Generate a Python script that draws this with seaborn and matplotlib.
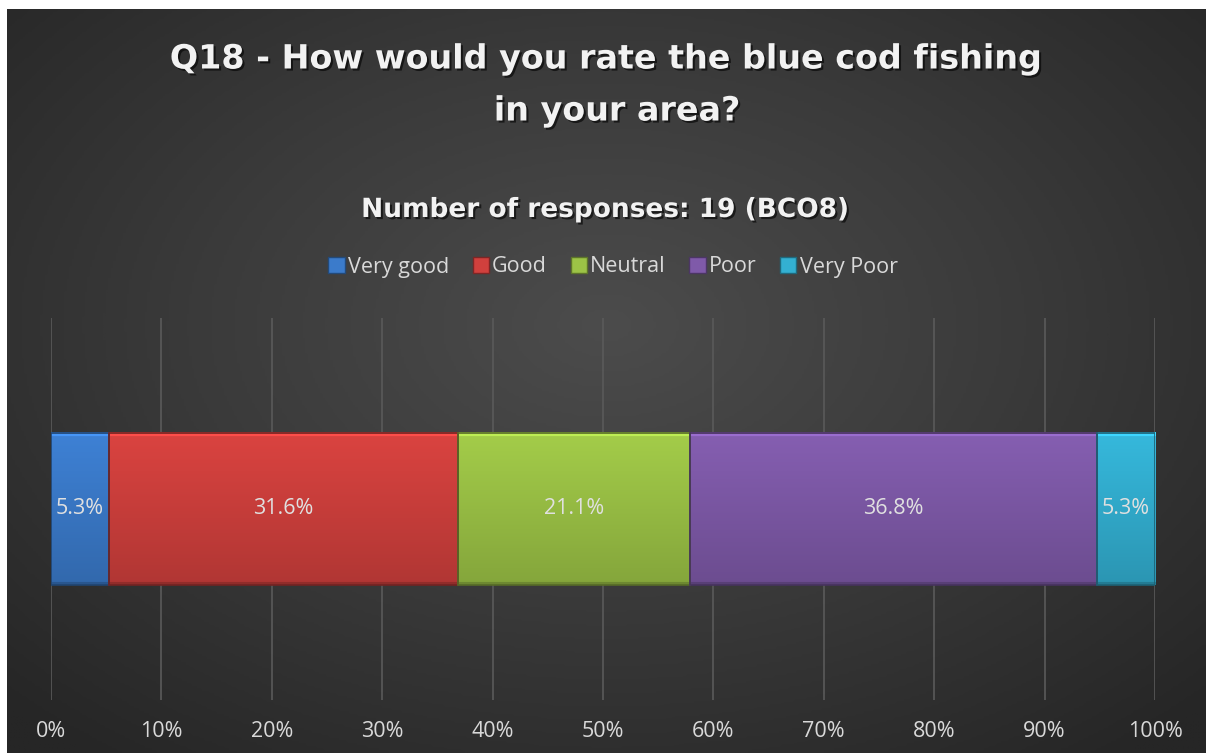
import numpy as np
import pandas as pd
import matplotlib
matplotlib.use("Agg")
import matplotlib.pyplot as plt
import matplotlib.patheffects as pe
from matplotlib.patches import Patch
import seaborn as sns

# Datos (19 respuestas)
categorias = ["Very good", "Good", "Neutral", "Poor", "Very Poor"]
respuestas = [1, 6, 4, 7, 1]
colores = ["#3b7bcb", "#d0403d", "#9cc346", "#7f5aa9", "#33b0d2"]
ticks_x = [0, 10, 20, 30, 40, 50, 60, 70, 80, 90, 100]
titulo = ["Q18 - How would you rate the blue cod fishing", "in your area?"]
subtitulo = "Number of responses: 19 (BCO8)"

total = sum(respuestas)
porcentajes = [100 * r / total for r in respuestas]
df = pd.DataFrame({"categoria": categorias, "pct": porcentajes})
df["acumulado"] = df["pct"].cumsum()
df["fila"] = "BCO8"

sns.set_theme(style="dark")
plt.rcParams["font.family"] = ["Open Sans", "DejaVu Sans"]

fig = plt.figure(figsize=(12.09, 7.53), dpi=100, facecolor="white")

# fondo con degradado radial
fondo = fig.add_axes([7 / 1209, 0, 1 - 10 / 1209, 1 - 9 / 753])
yy, xx = np.mgrid[-1:1:300j, -1:1:480j]
r = np.sqrt((xx / 1.0) ** 2 + ((yy + 0.15) / 1.05) ** 2)
fondo.imshow(np.clip(r, 0, 1.4), cmap=matplotlib.colors.LinearSegmentedColormap.from_list(
    "fondo", ["#4c4c4c", "#3a3a3a", "#262626"]), aspect="auto", vmin=0, vmax=1.4,
    extent=[0, 1, 0, 1])
fondo.set_axis_off()

ax = fig.add_axes([51 / 1209, 1 - 700 / 753, (1155 - 51) / 1209, 382 / 753])
ax.patch.set_alpha(0)

# barras apiladas: se dibuja de la ultima a la primera con el acumulado
for i in range(len(categorias) - 1, -1, -1):
    sns.barplot(data=df.iloc[[i]], x="acumulado", y="fila", orient="h",
                color=colores[i], width=0.8, saturation=1, ax=ax, zorder=3)

# efecto bisel con degradado dentro de cada barra
for i, p in enumerate(sorted(ax.patches, key=lambda b: b.get_x() + b.get_width())):
    x0 = 0 if i == 0 else df["acumulado"].iloc[i - 1]
    x1 = df["acumulado"].iloc[i]
    y0, y1 = p.get_y(), p.get_y() + p.get_height()
    p.set_visible(False)
    base = np.array(matplotlib.colors.to_rgb(colores[i]))
    grad = np.linspace(0, 1, 150)[:, None]
    shade = 1.05 - 0.2 * grad
    shade[:4] = 1.22
    shade[-3:] = 0.7
    img = np.clip(base[None, None, :] * shade[:, :, None], 0, 1)
    img = np.repeat(img, 2, axis=1)
    ax.imshow(img, extent=[x0, x1, y1, y0], aspect="auto", zorder=3,
              interpolation="bilinear")
    ax.add_patch(plt.Rectangle((x0, y0), x1 - x0, y1 - y0, fill=False,
                               edgecolor=base * 0.55, linewidth=1.2, zorder=4))
    ax.text((x0 + x1) / 2, 0, f"{porcentajes[i]:.1f}%", ha="center", va="center",
            color="#e0e0e0", fontsize=15.5, zorder=5)

ax.set_xlim(0, 100)
ax.set_ylim(1.005, -1.005)
ax.set_xticks(ticks_x)
ax.set_xticklabels([f"{t}%" for t in ticks_x], color="#d9d9d9", fontsize=15.5)
ax.set_yticks([])
ax.set_xlabel("")
ax.set_ylabel("")
ax.tick_params(axis="x", length=0, pad=15)
ax.grid(axis="x", color="#5a5a5a", linewidth=1.2, zorder=0)
ax.grid(axis="y", visible=False)
for s in ax.spines.values():
    s.set_visible(False)

sombra = [pe.withSimplePatchShadow(offset=(1.5, -1.5), shadow_rgbFace="black", alpha=0.6)]
fig.text(606 / 1209, 1 - 59 / 753, titulo[0], ha="center", va="center", fontsize=24,
         fontweight="bold", color="#f2f2f2", family="DejaVu Sans", path_effects=sombra)
fig.text(617 / 1209, 1 - 111 / 753, titulo[1], ha="center", va="center", fontsize=24,
         fontweight="bold", color="#f2f2f2", family="DejaVu Sans", path_effects=sombra)
fig.text(605 / 1209, 1 - 210 / 753, subtitulo, ha="center", va="center", fontsize=19,
         fontweight="bold", color="#f2f2f2", family="DejaVu Sans", path_effects=sombra)

manijas = [Patch(facecolor=c, edgecolor=np.array(matplotlib.colors.to_rgb(c)) * 0.6) for c in colores]
fig.legend(manijas, categorias, loc="center", bbox_to_anchor=(613 / 1209, 1 - 267 / 753),
           ncol=5, frameon=False, fontsize=15.5, labelcolor="#d9d9d9", handlelength=0.75,
           handleheight=0.75, handletextpad=0.15, columnspacing=1.1)

fig.savefig("out.png", dpi=100, facecolor="white")
